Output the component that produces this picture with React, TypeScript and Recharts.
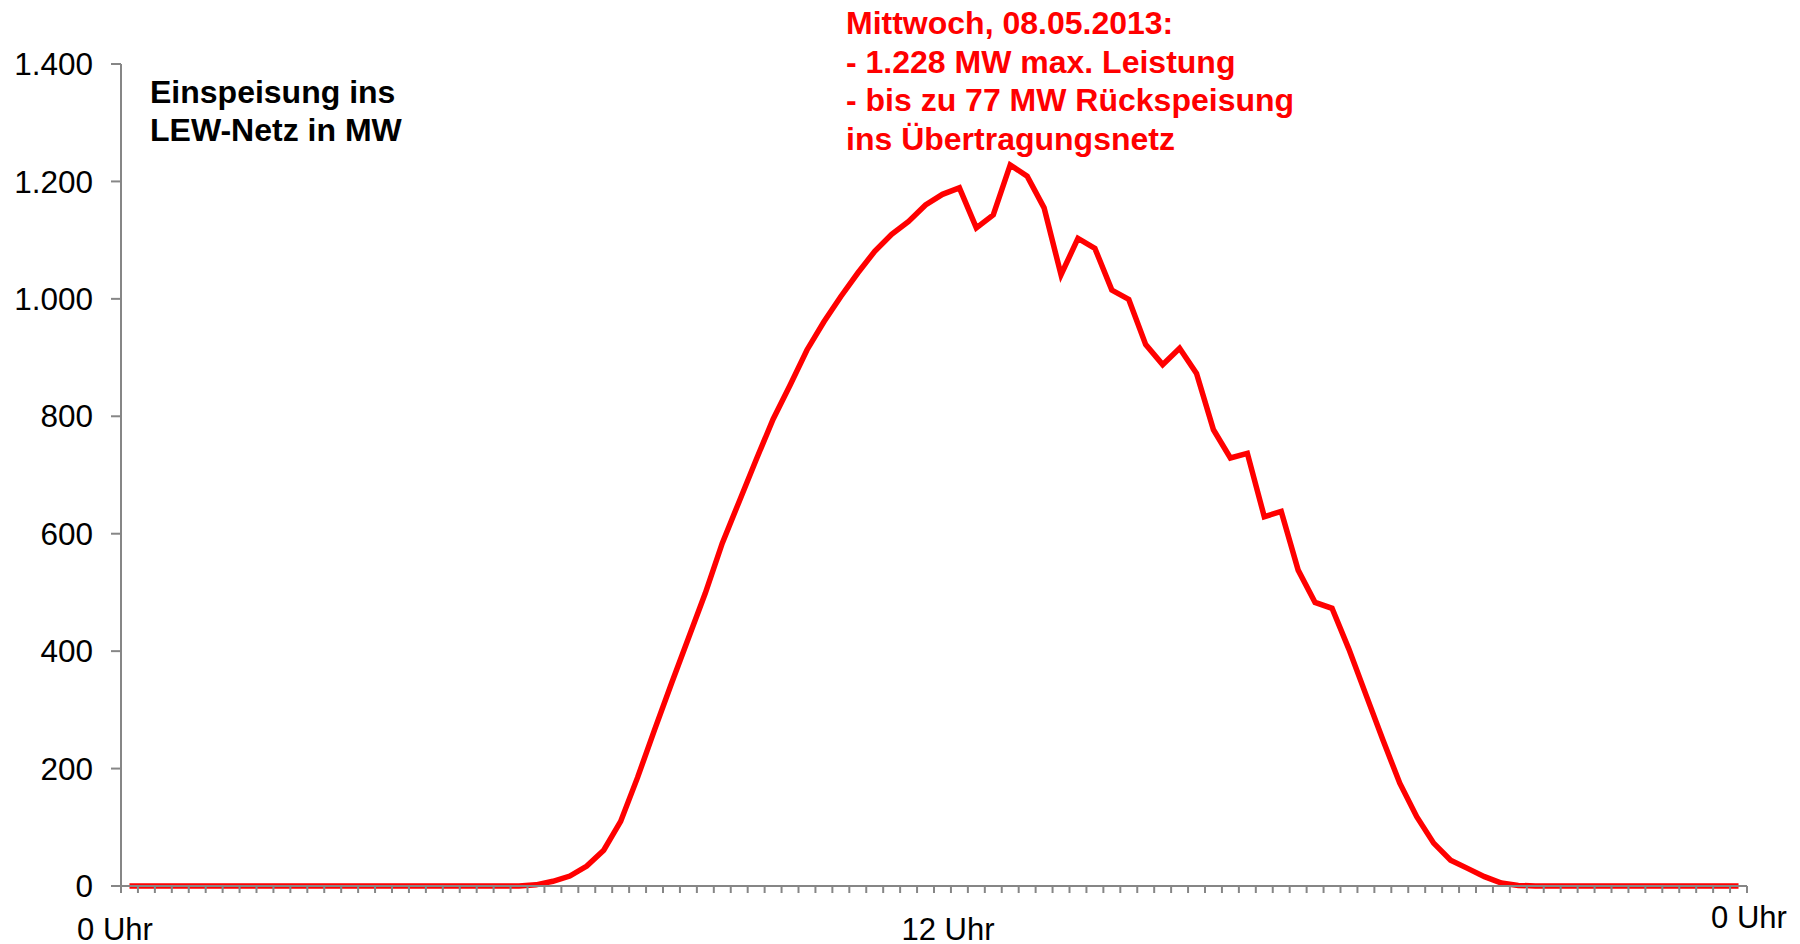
import React from "react";
import { LineChart, Line, XAxis, YAxis } from "recharts";

// quarter-hour values of the day, MW fed into the LEW grid
const einspeisung = [
  0, 0, 0, 0, 0, 0, 0, 0, 0, 0, 0, 0, 0, 0, 0, 0, 0, 0, 0, 0, 0, 0, 0, 0,
  2, 8, 17, 34, 61, 110, 185, 266, 345, 422, 499, 584, 655, 726, 795, 853,
  913, 961, 1004, 1044, 1081, 1110, 1132, 1160, 1178, 1189, 1121, 1143, 1228, 1209,
  1155, 1041, 1103, 1086, 1015, 999, 922, 888, 916, 873, 777, 729, 737, 629,
  638, 538, 483, 473, 403, 326, 249, 175, 118, 73, 44, 30, 16, 5, 1, 0,
  0, 0, 0, 0, 0, 0, 0, 0, 0, 0, 0, 0,
];

const yTicks = [0, 200, 400, 600, 800, 1000, 1200, 1400];
const xLabelHours = [0, 12, 24];
const xLabels = ["0 Uhr", "12 Uhr", "0 Uhr"];

const titleLines = ["Einspeisung ins", "LEW-Netz in MW"];
const noteLines = [
  "Mittwoch, 08.05.2013:",
  "- 1.228 MW max. Leistung",
  "- bis zu 77 MW Rückspeisung",
  "ins Übertragungsnetz",
];

// each value sits in the middle of its quarter hour
const data = einspeisung.map((mw, i) => ({ t: (i + 0.5) / 4, mw }));
const quarterTicks = Array.from({ length: 97 }, (_, i) => i / 4);

const FONT = "Arial, 'Liberation Sans', Helvetica, sans-serif";
const AXIS = "#868686";

const formatMW = (v: number) =>
  v >= 1000 ? `${Math.floor(v / 1000)}.${String(v % 1000).padStart(3, "0")}` : `${v}`;

// label offsets to sit like in the original slide
const labelShift = [
  { dx: -6, dy: 47 },
  { dx: 14, dy: 47 },
  { dx: 2, dy: 35 },
];

const XTick = (props: any) => {
  const { x, y, payload } = props;
  const idx = xLabelHours.indexOf(payload.value);
  if (idx < 0) return null;
  return (
    <text
      x={x + labelShift[idx].dx}
      y={y + labelShift[idx].dy}
      textAnchor="middle"
      fontSize={31}
      fontFamily={FONT}
      fill="#000"
    >
      {xLabels[idx]}
    </text>
  );
};

const App = () => {
  return (
    <div style={{ position: "absolute", left: 0, top: 0, width: 1800, height: 944, background: "#fff" }}>
      <LineChart
        width={1800}
        height={944}
        data={data}
        margin={{ top: 64, right: 53, bottom: 0, left: 0 }}
      >
        <XAxis
          dataKey="t"
          type="number"
          domain={[0, 24]}
          ticks={quarterTicks}
          interval={0}
          height={58}
          tickSize={7}
          tickMargin={0}
          stroke={AXIS}
          axisLine={{ stroke: AXIS, strokeWidth: 2 }}
          tickLine={{ stroke: AXIS, strokeWidth: 2 }}
          tick={(p: any) => <XTick {...p} />}
        />
        <YAxis
          domain={[0, 1400]}
          ticks={yTicks}
          interval={0}
          width={121}
          tickSize={10}
          tickMargin={18}
          axisLine={{ stroke: AXIS, strokeWidth: 2 }}
          tickLine={{ stroke: AXIS, strokeWidth: 2 }}
          tick={{ fill: "#000", fontSize: 31.5, fontFamily: FONT }}
          tickFormatter={formatMW}
        />
        <Line
          type="linear"
          dataKey="mw"
          stroke="#ff0000"
          strokeWidth={5.5}
          dot={false}
          isAnimationActive={false}
        />
      </LineChart>

      <div
        style={{
          position: "absolute",
          left: 150,
          top: 73,
          fontFamily: FONT,
          fontWeight: "bold",
          fontSize: 32,
          lineHeight: "38px",
          color: "#000",
          whiteSpace: "nowrap",
        }}
      >
        {titleLines.map((l) => (
          <div key={l}>{l}</div>
        ))}
      </div>

      <div
        style={{
          position: "absolute",
          left: 846,
          top: 4,
          fontFamily: FONT,
          fontWeight: "bold",
          fontSize: 32,
          lineHeight: "38.7px",
          color: "#ff0000",
          whiteSpace: "nowrap",
        }}
      >
        {noteLines.map((l) => (
          <div key={l}>{l}</div>
        ))}
      </div>
    </div>
  );
};

export default App;
